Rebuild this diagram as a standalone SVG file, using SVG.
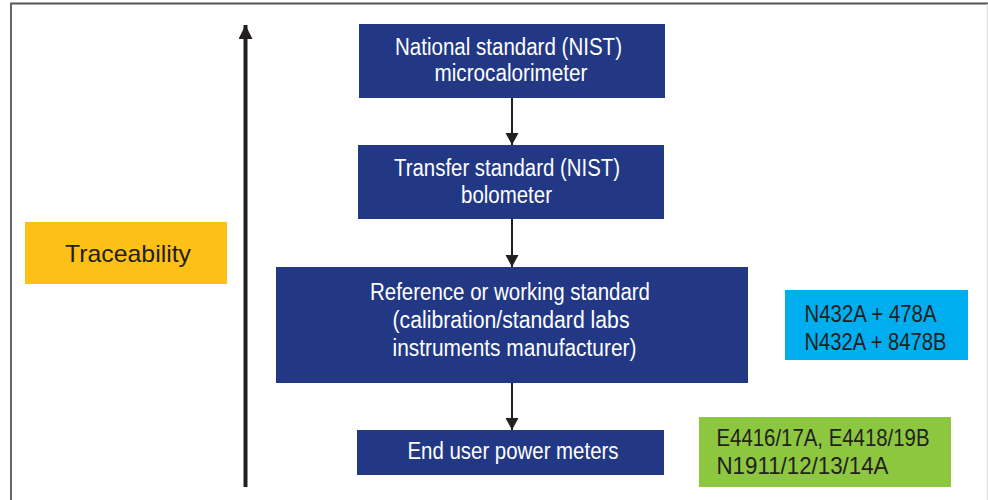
<svg xmlns="http://www.w3.org/2000/svg" width="988" height="500" viewBox="0 0 988 500">
<style>
.box{fill:#223884}
.wt{fill:#ffffff;font-family:"Liberation Sans Narrow","Liberation Sans",Arial,sans-serif;font-size:23px;text-anchor:middle}
.dt{fill:#231f20;font-family:"Liberation Sans Narrow","Liberation Sans",Arial,sans-serif;font-size:24px}
.conn{stroke:#231f20;stroke-width:2;fill:none}
.main{stroke:#231f20;stroke-width:4;fill:none}
</style>
<defs>
<marker id="ah" markerUnits="userSpaceOnUse" markerWidth="13" markerHeight="14" refX="12" refY="6.5" orient="auto">
<path d="M0,0 L12,6.5 L0,13 z" fill="#231f20"/>
</marker>
<marker id="ahBig" markerUnits="userSpaceOnUse" markerWidth="15" markerHeight="15" refX="14" refY="7" orient="auto">
<path d="M0,0 L14,7 L0,14 z" fill="#231f20"/>
</marker>
</defs>
<rect width="988" height="500" fill="#ffffff"/>
<g id="frame">
<line x1="10" y1="3.5" x2="988" y2="3.5" stroke="#555555" stroke-width="2"/>
<line x1="11" y1="3" x2="11" y2="500" stroke="#666666" stroke-width="2"/>
<line x1="987.5" y1="4" x2="987.5" y2="500" stroke="#dddddd" stroke-width="1"/>
</g>
<g id="connectors">
<line class="main" x1="245.5" y1="487" x2="245.5" y2="25" marker-end="url(#ahBig)"/>
<line class="conn" x1="512" y1="98" x2="512" y2="145" marker-end="url(#ah)"/>
<line class="conn" x1="512" y1="219" x2="512" y2="267" marker-end="url(#ah)"/>
<line class="conn" x1="512" y1="383" x2="512" y2="430" marker-end="url(#ah)"/>
</g>
<g id="traceability">
<rect x="25" y="222" width="202" height="62" fill="#fdc016"/>
<text class="dt" x="65" y="261.5" font-size="27" textLength="126" lengthAdjust="spacingAndGlyphs">Traceability</text>
</g>
<g id="national">
<rect class="box" x="359" y="24" width="306" height="74"/>
<text class="wt" x="508.5" y="55" textLength="227" lengthAdjust="spacingAndGlyphs">National standard (NIST)</text>
<text class="wt" x="511" y="81" textLength="153" lengthAdjust="spacingAndGlyphs">microcalorimeter</text>
</g>
<g id="transfer">
<rect class="box" x="358" y="145" width="306" height="74"/>
<text class="wt" x="507" y="175.5" textLength="226" lengthAdjust="spacingAndGlyphs">Transfer standard (NIST)</text>
<text class="wt" x="506.5" y="203" textLength="91" lengthAdjust="spacingAndGlyphs">bolometer</text>
</g>
<g id="reference">
<rect class="box" x="276" y="267" width="472" height="116"/>
<text class="wt" x="510" y="300" textLength="280" lengthAdjust="spacingAndGlyphs">Reference or working standard</text>
<text class="wt" x="511" y="327.5" textLength="237" lengthAdjust="spacingAndGlyphs">(calibration/standard labs</text>
<text class="wt" x="514.5" y="356" textLength="244" lengthAdjust="spacingAndGlyphs">instruments manufacturer)</text>
</g>
<g id="enduser">
<rect class="box" x="357" y="430" width="307" height="45"/>
<text class="wt" x="513" y="458.5" textLength="211" lengthAdjust="spacingAndGlyphs">End user power meters</text>
</g>
<g id="refmodels">
<rect x="785" y="290" width="183" height="70" fill="#00aeef"/>
<text class="dt" x="804.5" y="321.5" textLength="132" lengthAdjust="spacingAndGlyphs">N432A + 478A</text>
<text class="dt" x="804.5" y="349.5" textLength="142" lengthAdjust="spacingAndGlyphs">N432A + 8478B</text>
</g>
<g id="endmodels">
<rect x="699" y="417" width="252" height="70" fill="#8dc63f"/>
<text class="dt" x="716.5" y="445.5" textLength="213" lengthAdjust="spacingAndGlyphs">E4416/17A, E4418/19B</text>
<text class="dt" x="716.5" y="473.5" textLength="172" lengthAdjust="spacingAndGlyphs">N1911/12/13/14A</text>
</g>
</svg>
